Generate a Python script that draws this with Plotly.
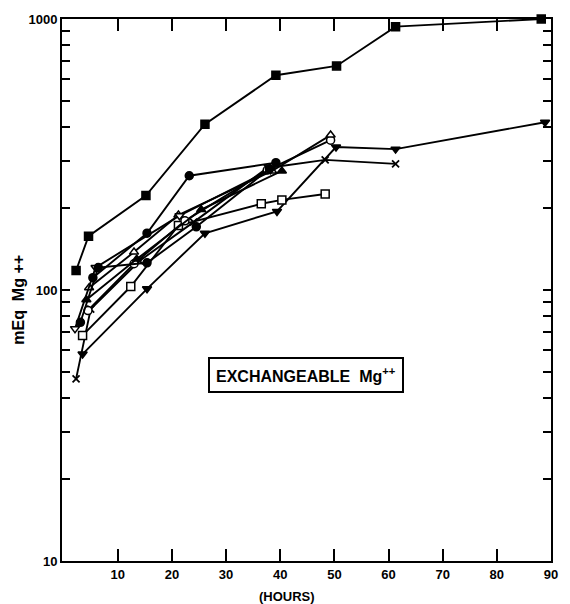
import plotly.graph_objects as go

# ---- data (hours, mEq Mg++) ----
h_sq_f = [2.3, 4.6, 15.2, 26.1, 39.2, 50.4, 61.3, 88.2]
v_sq_f = [118, 158, 223, 409, 620, 671, 937, 1000]

h_ci_f = [5.4, 15.4, 23.2, 39.2]
v_ci_f = [111, 162, 264, 295]

h_tri_dn_f = [3.5, 15.4, 26.1, 39.4, 50.3, 61.3, 88.9]
v_tri_dn_f = [58, 101, 162, 195, 337, 331, 416]

h_x = [2.3, 5.0, 14.0, 24.0, 37.6, 48.3, 61.3]
v_x = [47, 85, 128, 178, 282, 302, 292]

h_sq_o = [3.5, 12.4, 21.2, 36.5, 40.3, 48.3]
v_sq_o = [68, 103, 173, 208, 215, 226]

h_ci_o = [4.5, 13.0, 22.4, 37.6, 49.3]
v_ci_o = [84, 125, 180, 277, 357]

h_tri_up_o = [4.7, 13.0, 21.2, 38.5, 49.3]
v_tri_up_o = [102, 138, 189, 275, 373]

h_tri_up_f = [4.2, 13.5, 25.4, 40.3]
v_tri_up_f = [92, 130, 198, 275]

h_tri_dn_o = [2.1, 5.9, 21.4, 38.2]
v_tri_dn_o = [72, 121, 188, 278]

h_ci_f2 = [3.1, 6.4, 15.4, 24.5, 38.0]
v_ci_f2 = [76, 121, 126, 171, 280]

x_ticks = [10, 20, 30, 40, 50, 60, 70, 80, 90]
y_major = [10, 100, 1000]

series = [
    (h_sq_f, v_sq_f, "square", True),
    (h_ci_f, v_ci_f, "circle", True),
    (h_tri_dn_f, v_tri_dn_f, "triangle-down", True),
    (h_x, v_x, "x-thin", None),
    (h_sq_o, v_sq_o, "square", False),
    (h_ci_o, v_ci_o, "circle", False),
    (h_tri_up_o, v_tri_up_o, "triangle-up", False),
    (h_tri_up_f, v_tri_up_f, "triangle-up", True),
    (h_tri_dn_o, v_tri_dn_o, "triangle-down", False),
    (h_ci_f2, v_ci_f2, "circle", True),
]

fig = go.Figure()
for hx, vy, sym, filled in series:
    if filled is None:
        marker = dict(symbol=sym, size=7, color="black",
                      line=dict(color="black", width=1.8))
    else:
        marker = dict(symbol=sym, size=8,
                      color="black" if filled else "white",
                      line=dict(color="black", width=1.5))
    fig.add_trace(go.Scatter(x=hx, y=vy, mode="lines+markers",
                             line=dict(color="black", width=1.9),
                             marker=marker, cliponaxis=False,
                             showlegend=False))

# log ticks (labels only on decades)
y_ticks = []
for dec in [10, 100]:
    for m in range(1, 10):
        y_ticks.append(dec * m)
y_ticks.append(1000)
y_text = [str(v) if v in y_major else "" for v in y_ticks]

FAM = "Liberation Sans, Arial, sans-serif"
tickfont = dict(family=FAM, size=13, color="black", weight="bold")

fig.update_layout(
    width=570, height=604,
    margin=dict(l=62, r=12, t=15, b=43),
    paper_bgcolor="white", plot_bgcolor="white",
    font=dict(family=FAM, size=13, color="black"),
    xaxis=dict(range=[-0.3, 90], tickvals=x_ticks, ticks="inside",
               ticklen=12, tickwidth=1.5, tickcolor="black",
               showline=True, linecolor="black", linewidth=2, mirror="ticks",
               showgrid=False, zeroline=False, tickfont=tickfont),
    yaxis=dict(type="log", range=[1, 3], tickvals=y_ticks, ticktext=y_text,
               ticks="inside", ticklen=8, tickwidth=1.5, tickcolor="black",
               showline=True, linecolor="black", linewidth=2, mirror="ticks",
               showgrid=False, zeroline=False, tickfont=tickfont),
)

# axis titles
fig.add_annotation(text="(HOURS)", xref="paper", yref="paper",
                   x=0.46, y=-0.066, xanchor="center", yanchor="middle",
                   showarrow=False,
                   font=dict(family=FAM, size=13, color="black", weight="bold"))
fig.add_annotation(text="mEq  Mg ++", xref="paper", yref="paper",
                   x=-0.089, y=0.483, xanchor="center", yanchor="middle",
                   textangle=-90, showarrow=False,
                   font=dict(family=FAM, size=16, color="black", weight="bold"))

# label box
fig.add_annotation(
    text="<b>EXCHANGEABLE  Mg<sup>++</sup></b>", xref="paper", yref="paper",
    x=0.299, xanchor="left", y=0.343, yanchor="middle", showarrow=False,
    font=dict(family=FAM, size=16, color="black"),
    bordercolor="black", borderwidth=2, borderpad=6, bgcolor="white",
)

fig.write_html("out.html")
